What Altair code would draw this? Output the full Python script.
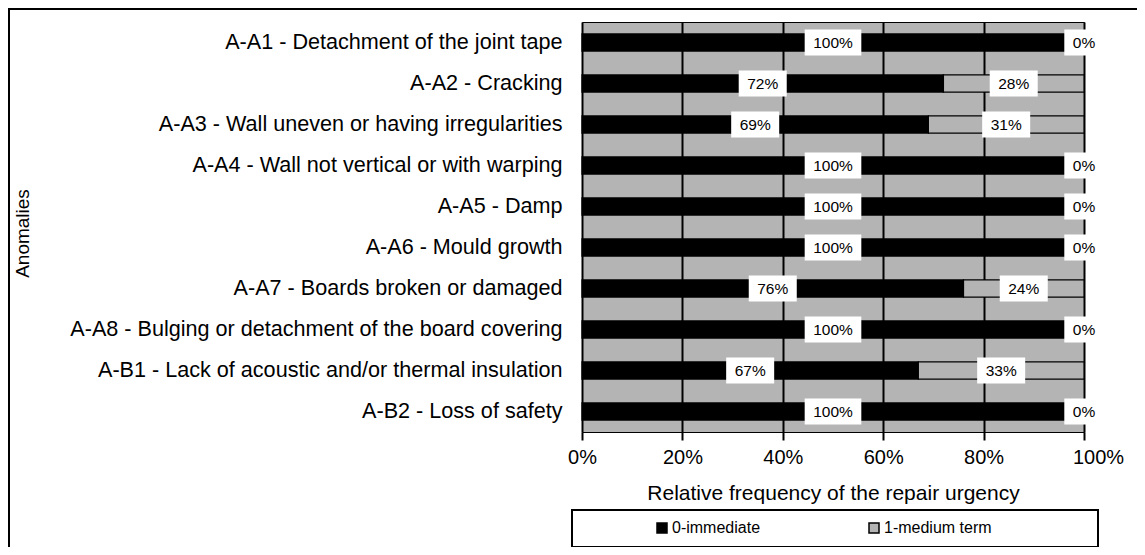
import altair as alt
import pandas as pd

# ---- data ----
categories = [
    "A-A1 - Detachment of the joint tape",
    "A-A2 - Cracking",
    "A-A3 - Wall uneven or having irregularities",
    "A-A4 - Wall not vertical or with warping",
    "A-A5 - Damp",
    "A-A6 - Mould growth",
    "A-A7 - Boards broken or damaged",
    "A-A8 - Bulging or detachment of the board covering",
    "A-B1 - Lack of acoustic and/or thermal insulation",
    "A-B2 - Loss of safety",
]
immediate = [100, 72, 69, 100, 100, 100, 76, 100, 67, 100]
medium_term = [0, 28, 31, 0, 0, 0, 24, 0, 33, 0]
series = ["0-immediate", "1-medium term"]
x_ticks = [0, 20, 40, 60, 80, 100]

FONT = "Liberation Sans"
GRAY = "#b4b4b4"
PLOT_W, PLOT_H = 502, 410
LABEL_FS = 15.5

rows = []
for c, a, b in zip(categories, immediate, medium_term):
    rows.append({"cat": c, "series": series[0], "k": 0, "value": a, "mid": a / 2})
    rows.append({"cat": c, "series": series[1], "k": 1, "value": b, "mid": a + b / 2})
df = pd.DataFrame(rows)
df["label"] = df["value"].astype(int).astype(str) + "%"
# white label box width (pixels -> data units)
box_px = LABEL_FS * (0.556 * (df["label"].str.len() - 1) + 0.889) + 17
df["lo"] = df["mid"] - box_px / 2 * 100 / PLOT_W
df["hi"] = df["mid"] + box_px / 2 * 100 / PLOT_W

yscale = alt.Scale(paddingInner=0.58, paddingOuter=0.29)
xscale = alt.Scale(domain=[0, 100], nice=False, zero=True)

y_enc = alt.Y(
    "cat:N",
    sort=categories,
    scale=yscale,
    axis=alt.Axis(
        title="Anomalies",
        titleFont=FONT,
        titleFontSize=19,
        titleFontWeight="normal",
        titleColor="black",
        titleX=-560,
        titleY=211,
        titleAlign="center",
        titleBaseline="middle",
        titleAngle=270,
        labelFont=FONT,
        labelFontSize=21.6,
        labelColor="black",
        labelPadding=20,
        labelLimit=700,
        ticks=False,
        domain=False,
        grid=False,
    ),
)

bars = (
    alt.Chart(df)
    .mark_bar(stroke="black", strokeWidth=1.2)
    .encode(
        y=y_enc,
        x=alt.X(
            "value:Q",
            stack="zero",
            scale=xscale,
            axis=alt.Axis(
                values=x_ticks,
                labelExpr="datum.value + '%'",
                labelFlush=False,
                labelOffset={"condition": {"test": "datum.value === 100", "value": 14}, "value": 0},
                grid=True,
                gridColor="black",
                gridWidth=2,
                gridOpacity=1,
                ticks=True,
                tickColor="black",
                tickWidth=2,
                tickSize=8,
                domain=False,
                labelFont=FONT,
                labelFontSize=20,
                labelColor="black",
                labelPadding=7,
                title="Relative frequency of the repair urgency",
                titleFont=FONT,
                titleFontSize=21,
                titleFontWeight="normal",
                titleColor="black",
                titlePadding=15,
            ),
        ),
        color=alt.Color(
            "series:N",
            scale=alt.Scale(domain=series, range=["#000000", GRAY]),
            legend=alt.Legend(
                title=None,
                orient="none",
                legendX=72,
                legendY=498,
                direction="horizontal",
                symbolType="square",
                symbolSize=100,
                symbolStrokeColor="black",
                symbolStrokeWidth=1.5,
                labelFont=FONT,
                labelFontSize=16,
                labelColor="black",
                labelOffset=2,
                columnPadding=105,
                padding=0,
            ),
        ),
        order=alt.Order("k:Q"),
    )
)

boxes = (
    alt.Chart(df)
    .mark_bar(color="white", size=26)
    .encode(y=alt.Y("cat:N", sort=categories), x=alt.X("lo:Q"), x2="hi:Q")
)

texts = (
    alt.Chart(df)
    .mark_text(font=FONT, fontSize=LABEL_FS, color="black", baseline="middle", align="center")
    .encode(y=alt.Y("cat:N", sort=categories), x=alt.X("mid:Q"), text="label:N")
)

legend_frame = alt.Chart(df).mark_rect(
    fillOpacity=0, stroke="black", strokeWidth=2
).encode(
    x=alt.value(-10), x2=alt.value(516), y=alt.value(488), y2=alt.value(525)
)

outer_frame = alt.Chart(df).mark_rect(
    fillOpacity=0, stroke="black", strokeWidth=2
).encode(
    x=alt.value(-573), x2=alt.value(2000), y=alt.value(-13), y2=alt.value(2000)
)

chart = (
    alt.layer(bars, boxes, texts, legend_frame, outer_frame)
    .properties(
        width=PLOT_W,
        height=PLOT_H,
        background="white",
        autosize=alt.AutoSizeParams(type="none"),
        padding={"left": 574, "top": 14, "right": 53, "bottom": 115},
    )
    .configure_view(fill=GRAY, stroke="black", strokeWidth=1)
)

chart.save("out.html", embed_options={"renderer": "svg", "actions": False})
